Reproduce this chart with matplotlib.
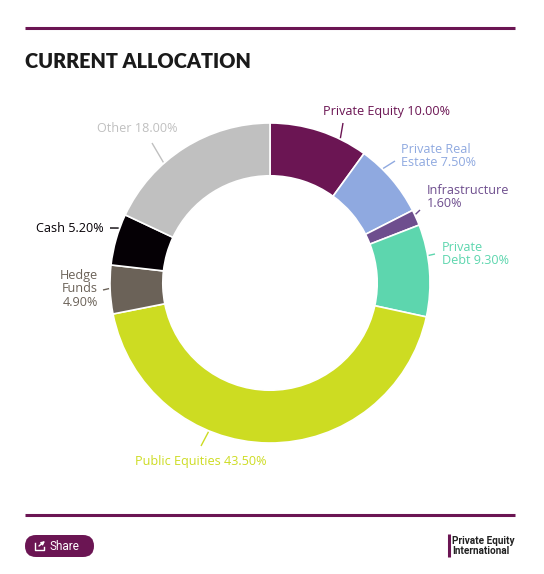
import numpy as np
import matplotlib.pyplot as plt
from matplotlib.patches import FancyBboxPatch

# data
labels = ["Private Equity", "Private Real Estate", "Infrastructure", "Private Debt",
          "Public Equities", "Hedge Funds", "Cash", "Other"]
values = [10.00, 7.50, 1.60, 9.30, 43.50, 4.90, 5.20, 18.00]
colours = ["#6b1553", "#8fa9e0", "#6e4e8e", "#5dd6ae",
           "#cddc22", "#6b6258", "#050005", "#c0c0c0"]
label_text = ["Private Equity 10.00%", "Private Real\nEstate 7.50%", "Infrastructure\n1.60%",
              "Private\nDebt 9.30%", "Public Equities 43.50%", "Hedge\nFunds\n4.90%",
              "Cash 5.20%", "Other 18.00%"]

PURPLE = "#6b1553"
W, H = 544, 574
CX, CY, R = 270, 283, 160
RING = 0.33

# label layout (pixel positions): anchor fraction in wedge, leader end, text pos, align
label_layout = [
    (0.72, (343, 123), (323, 111), "left"),
    (0.32, (395, 161), (401, 156), "left"),
    (0.30, (420, 210), (427, 197), "left"),
    (0.34, (435, 254), (442, 254), "left"),
    (0.64, (201, 446), (201, 461), "center"),
    (0.52, (103, 290), (98, 289), "right"),
    (0.72, (110, 228), (104, 228), "right"),
    (0.36, (152, 143), (137, 129), "center"),
]

fig = plt.figure(figsize=(W / 100, H / 100), dpi=100)
ax = fig.add_axes([0, 0, 1, 1])

# y axis runs downwards so visual clockwise == counterclock in data coords
wedges, _ = ax.pie(values, colors=colours, startangle=270, counterclock=True,
                   radius=R, center=(CX, CY),
                   wedgeprops=dict(width=R * RING, edgecolor="white", linewidth=1.2))
ax.set_xlim(0, W)
ax.set_ylim(H, 0)
ax.set_aspect("equal")
ax.axis("off")

for w, txt, col, (frac, lend, tpos, ha) in zip(wedges, label_text, colours, label_layout):
    ang = np.deg2rad(w.theta1 + frac * (w.theta2 - w.theta1))
    sx, sy = CX + (R + 1) * np.cos(ang), CY + (R + 1) * np.sin(ang)
    ax.plot([sx, lend[0]], [sy, lend[1]], color=col, lw=1.0, solid_capstyle="butt")
    ax.text(tpos[0], tpos[1], txt, color=col, ha=ha, va="center",
            multialignment=ha, fontsize=9.1, family="Open Sans", linespacing=1.0)

# title and rules
ax.plot([25, 515], [28, 28], color=PURPLE, lw=2.2, solid_capstyle="butt")
ax.text(25, 61, "CURRENT ALLOCATION", fontsize=14.3, fontweight="heavy", family="Lato",
        color="#1a1a1a", ha="left", va="center")
ax.plot([25, 515], [514.5, 514.5], color=PURPLE, lw=2.2, solid_capstyle="butt")

# share button
btn = FancyBboxPatch((36, 546), 47, 0.001, boxstyle="round,pad=11,rounding_size=11",
                     facecolor=PURPLE, edgecolor="none")
ax.add_patch(btn)
ax.plot([35, 35, 44, 44], [543, 550, 550, 547], color="white", lw=1.0)
ax.annotate("", xy=(45, 541), xytext=(39, 546),
            arrowprops=dict(arrowstyle="-|>", color="white", lw=1.0,
                            mutation_scale=5, shrinkA=0, shrinkB=0))
ax.text(50, 546, "Share", color="white", fontsize=8.5, family="Roboto",
        ha="left", va="center")

# logo
ax.plot([448.5, 448.5], [534, 557], color=PURPLE, lw=2.2, solid_capstyle="butt")
ax.text(452.5, 541.5, "Private Equity", fontsize=7.2, fontweight="bold", family="Roboto",
        color="#222222", ha="left", va="center")
ax.text(452.5, 550.5, "International", fontsize=7.2, fontweight="bold", family="Roboto",
        color="#222222", ha="left", va="center")

fig.savefig("out.png", dpi=100, facecolor="white")
